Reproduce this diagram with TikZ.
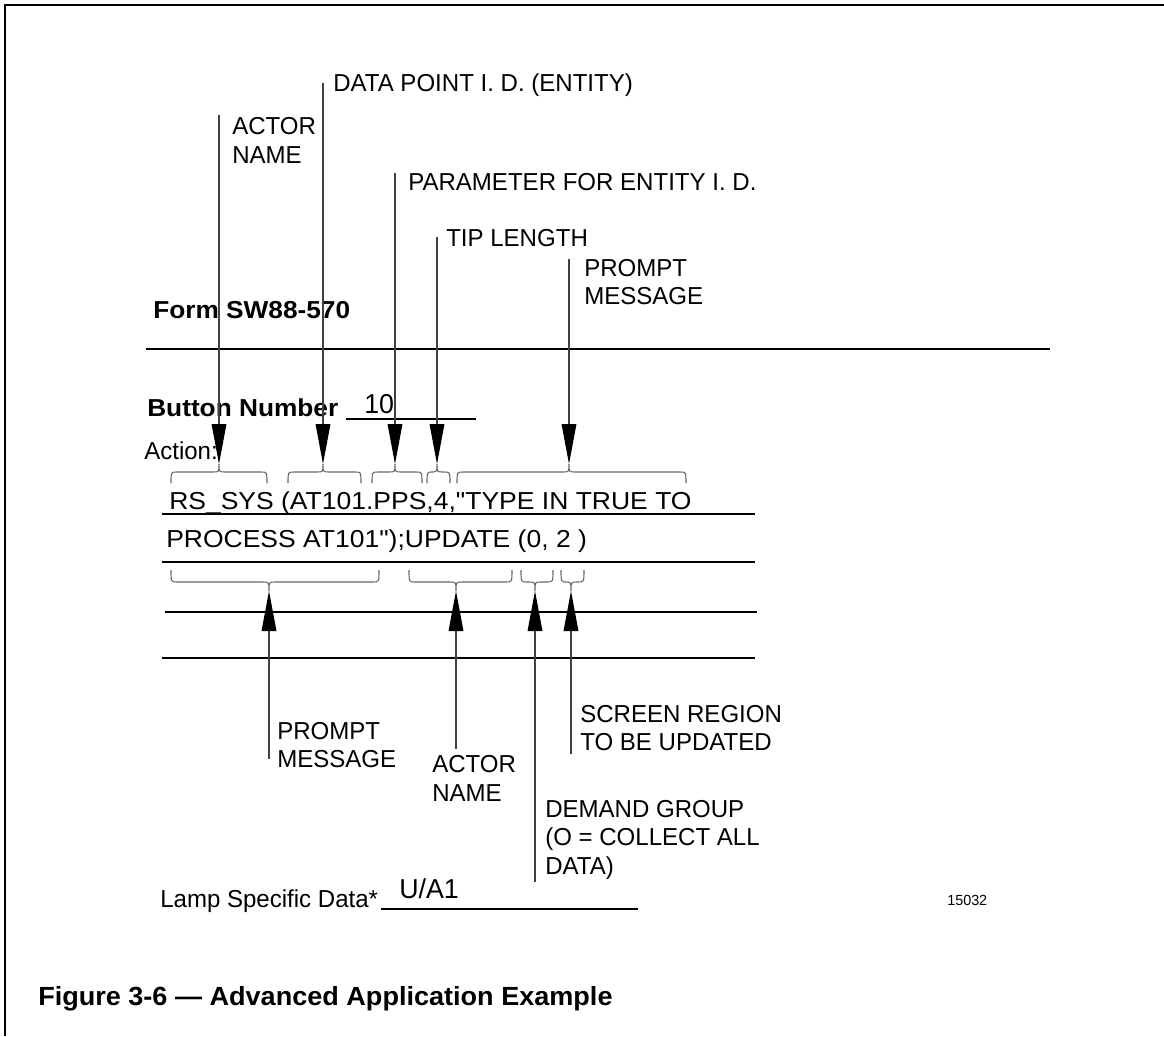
\documentclass[tikz,border=0pt]{standalone}
\usepackage{fontspec}
\setmainfont{Liberation Sans}
\newfontfamily\lblfont[FakeStretch=0.98]{Liberation Sans}
\newfontfamily\codefont[FakeStretch=1.08]{Liberation Sans}
\newfontfamily\bldfont[FakeStretch=1.07]{Liberation Sans}
\newfontfamily\capfont[FakeStretch=1.03]{Liberation Sans}
\usetikzlibrary{arrows.meta}
\tikzset{
  lbl/.style={anchor=base west, inner sep=0pt, font=\lblfont\fontsize{18.4}{22}\selectfont},
  codetxt/.style={anchor=base west, inner sep=0pt, font=\codefont\fontsize{18.4}{22}\selectfont},
  bld/.style={anchor=base west, inner sep=0pt, font=\bldfont\bfseries\fontsize{18.4}{22}\selectfont},
  bigtxt/.style={anchor=base west, inner sep=0pt, font=\lblfont\fontsize{20.5}{24}\selectfont},
  smalltxt/.style={anchor=base west, inner sep=0pt, font=\lblfont\fontsize{11}{13}\selectfont},
  captxt/.style={anchor=base west, inner sep=0pt, font=\capfont\bfseries\fontsize{19.7}{23}\selectfont},
  ptr/.style={draw=black!75, line width=0.8pt, -{Triangle[length=30pt,width=11pt,color=black]}},
  rulel/.style={draw=black, line width=1pt},
  bracel/.style={draw=black!60, line width=0.8pt},
  frame/.style={draw=black, line width=2.2pt}
}
% brace: #1 left x, #2 peak x, #3 right x, #4 end y, #5 bar y, #6 peak y
\newcommand\MyBrace[6]{%
  \draw[bracel] (#1,#4) .. controls (#1,#5) .. ({#1+6},#5) -- ({#2-6},#5)
     .. controls (#2,#5) .. (#2,#6) .. controls (#2,#5) .. ({#2+6},#5)
     -- ({#3-6},#5) .. controls (#3,#5) .. (#3,#4);}
\begin{document}
\begin{tikzpicture}[x=0.75pt,y=-0.75pt]
\useasboundingbox (0,0) rectangle (1164,1036);
% frame
\draw[frame] (5,1036) -- (5,5) -- (1164,5);

% top labels
\node[lbl] (dp) at (333,91) {DATA POINT I. D. (ENTITY)};
\node[lbl] (an1) at (232,134) {ACTOR};
\node[lbl] (an2) at (232,163) {NAME};
\node[lbl] (pe) at (408,190) {PARAMETER FOR ENTITY I. D.};
\node[lbl] (tl) at (446,246) {TIP LENGTH};
\node[lbl] (pm1) at (584,276) {PROMPT};
\node[lbl] (pm2) at (584,304) {MESSAGE};

\node[bld] (form) at (153,318) {Form SW88-570};
\draw[rulel] (146,349) -- (1050,349);

\node[bld] (bn) at (147,416) {Button Number};
\node[bigtxt] (ten) at (364,413) {10};
\draw[rulel] (346,419) -- (476,419);
\node[lbl] (act) at (144,459) {Action:};

% upper braces
\MyBrace{171}{219}{267}{483}{472}{464}
\MyBrace{288}{323}{361}{483}{472}{464}
\MyBrace{372}{395}{422}{483}{472}{464}
\MyBrace{427}{437}{450}{483}{472}{464}
\MyBrace{457}{569}{686}{483}{472}{464}

% down arrows
\coordinate (aT) at (219,115); \coordinate (aP) at (219,464);
\coordinate (dT) at (323,83);  \coordinate (dP) at (323,464);
\coordinate (pT) at (395,173); \coordinate (pP) at (395,464);
\coordinate (tT) at (437,237); \coordinate (tP) at (437,464);
\coordinate (mT) at (569,259); \coordinate (mP) at (569,464);
\draw[ptr] (aT) -- (aP);
\draw[ptr] (dT) -- (dP);
\draw[ptr] (pT) -- (pP);
\draw[ptr] (tT) -- (tP);
\draw[ptr] (mT) -- (mP);

% code lines
\node[codetxt] (c1) at (169,509) {RS\_SYS (AT101.PPS,4,"TYPE IN TRUE TO};
\draw[rulel] (162,514) -- (755,514);
\node[codetxt] (c2) at (166,547) {PROCESS AT101");UPDATE (0, 2 )};
\draw[rulel] (162,562) -- (755,562);
\draw[rulel] (165,612) -- (757,612);
\draw[rulel] (162,658) -- (755,658);

% lower braces (peak downward)
\MyBrace{171}{269}{379}{570}{582}{591}
\MyBrace{409}{456}{512}{570}{582}{591}
\MyBrace{521}{535}{553}{570}{582}{591}
\MyBrace{561}{571}{584}{570}{582}{591}

% up arrows
\coordinate (qB) at (269,759); \coordinate (qP) at (269,591);
\coordinate (rB) at (456,749); \coordinate (rP) at (456,591);
\coordinate (sB) at (535,882); \coordinate (sP) at (535,591);
\coordinate (uB) at (571,754); \coordinate (uP) at (571,591);
\draw[ptr] (qB) -- (qP);
\draw[ptr] (rB) -- (rP);
\draw[ptr] (sB) -- (sP);
\draw[ptr] (uB) -- (uP);

% lower labels
\node[lbl] (lp1) at (277,739) {PROMPT};
\node[lbl] (lp2) at (277,767) {MESSAGE};
\node[lbl] (la1) at (432,772) {ACTOR};
\node[lbl] (la2) at (432,801) {NAME};
\node[lbl] (ls1) at (580,722) {SCREEN REGION};
\node[lbl] (ls2) at (580,750) {TO BE UPDATED};
\node[lbl] (ld1) at (545,817) {DEMAND GROUP};
\node[lbl] (ld2) at (545,845) {(O = COLLECT ALL};
\node[lbl] (ld3) at (545,874) {DATA)};

\node[lbl] (lamp) at (160,907) {Lamp Specific Data*};
\node[bigtxt] (ua) at (399,898) {U/A1};
\draw[rulel] (381,909) -- (638,909);
\node[smalltxt] (num) at (947,905) {15032};

\node[captxt] (cap) at (38,1005) {Figure 3-6 — Advanced Application Example};
\end{tikzpicture}
\end{document}
